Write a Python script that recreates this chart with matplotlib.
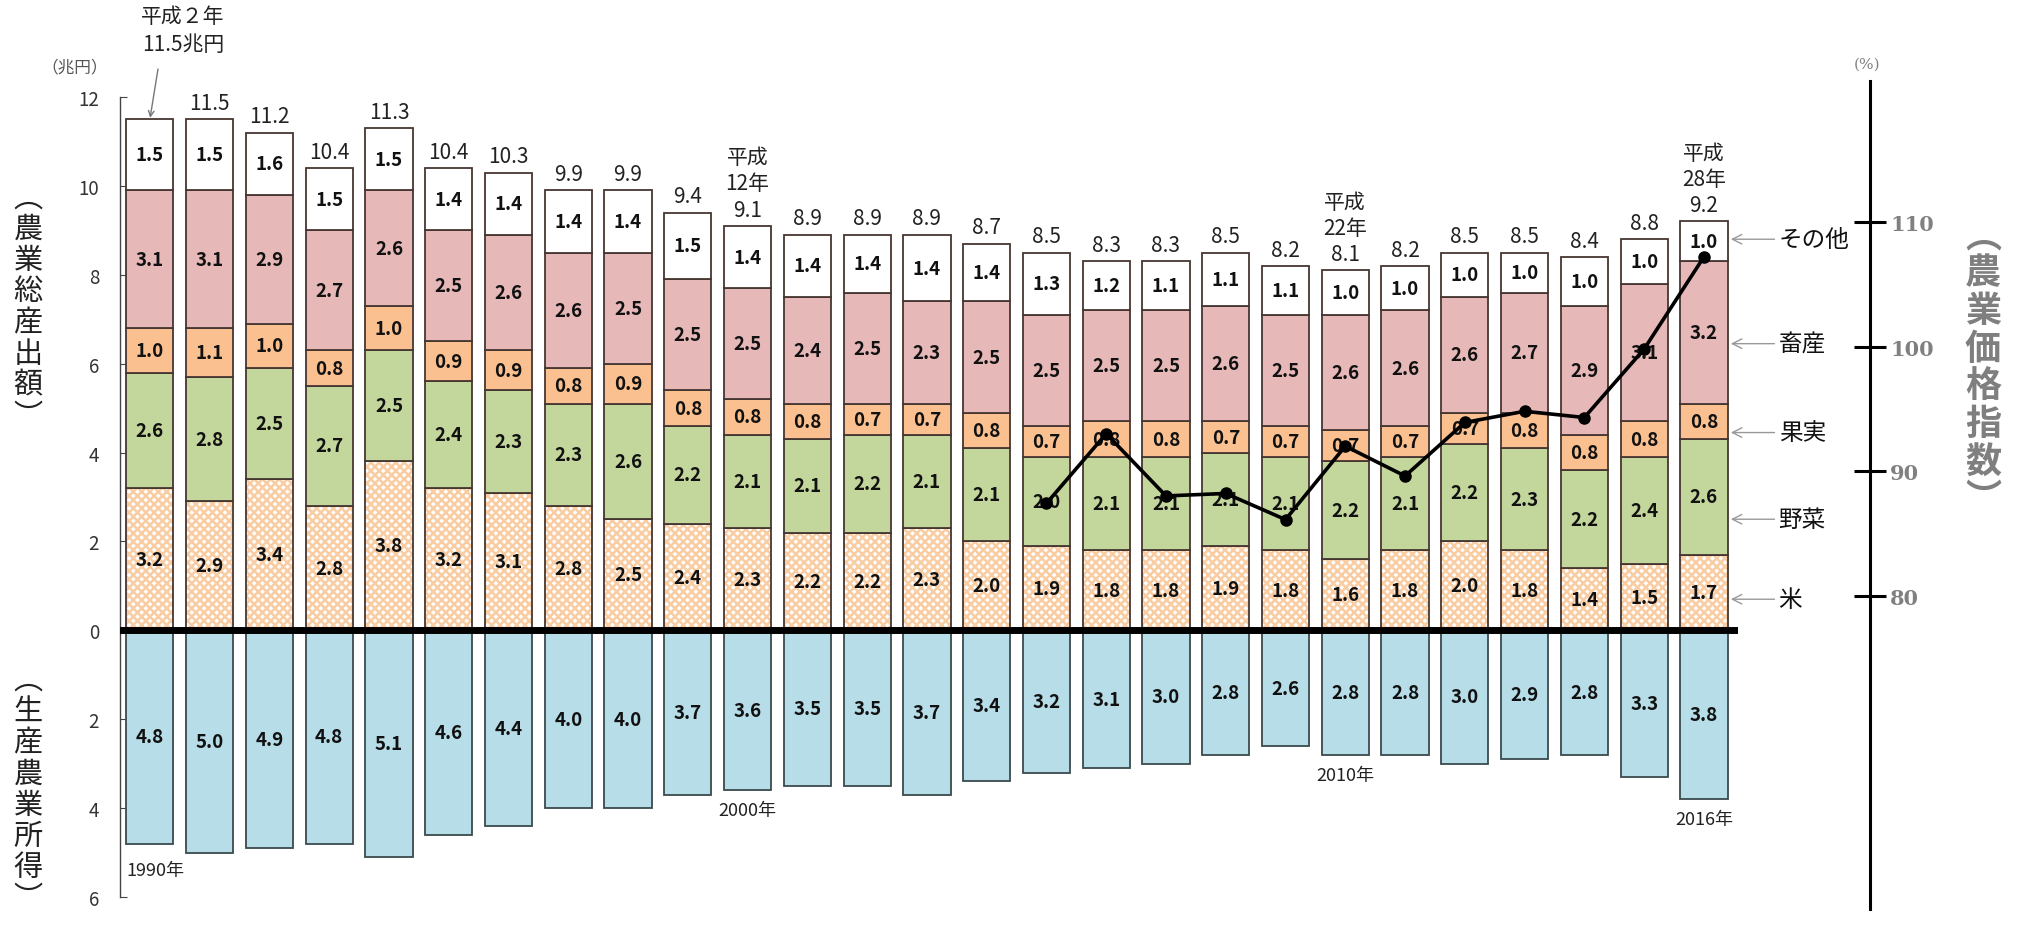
import matplotlib
matplotlib.use('Agg')
import matplotlib.pyplot as plt
import numpy as np

plt.rcParams['font.family'] = ['Noto Sans CJK JP', 'DejaVu Sans']
plt.rcParams['hatch.linewidth'] = 1.8

# ---------------- data ----------------
years = list(range(1990, 2017))
rice = [3.2, 2.9, 3.4, 2.8, 3.8, 3.2, 3.1, 2.8, 2.5, 2.4, 2.3, 2.2, 2.2, 2.3,
        2.0, 1.9, 1.8, 1.8, 1.9, 1.8, 1.6, 1.8, 2.0, 1.8, 1.4, 1.5, 1.7]
vegetables = [2.6, 2.8, 2.5, 2.7, 2.5, 2.4, 2.3, 2.3, 2.6, 2.2, 2.1, 2.1, 2.2, 2.1,
              2.1, 2.0, 2.1, 2.1, 2.1, 2.1, 2.2, 2.1, 2.2, 2.3, 2.2, 2.4, 2.6]
fruit = [1.0, 1.1, 1.0, 0.8, 1.0, 0.9, 0.9, 0.8, 0.9, 0.8, 0.8, 0.8, 0.7, 0.7,
         0.8, 0.7, 0.8, 0.8, 0.7, 0.7, 0.7, 0.7, 0.7, 0.8, 0.8, 0.8, 0.8]
livestock = [3.1, 3.1, 2.9, 2.7, 2.6, 2.5, 2.6, 2.6, 2.5, 2.5, 2.5, 2.4, 2.5, 2.3,
             2.5, 2.5, 2.5, 2.5, 2.6, 2.5, 2.6, 2.6, 2.6, 2.7, 2.9, 3.1, 3.2]
other = [1.5, 1.5, 1.6, 1.5, 1.5, 1.4, 1.4, 1.4, 1.4, 1.5, 1.4, 1.4, 1.4, 1.4,
         1.4, 1.3, 1.2, 1.1, 1.1, 1.1, 1.0, 1.0, 1.0, 1.0, 1.0, 1.0, 1.0]
total = [11.5, 11.5, 11.2, 10.4, 11.3, 10.4, 10.3, 9.9, 9.9, 9.4, 9.1, 8.9, 8.9, 8.9,
         8.7, 8.5, 8.3, 8.3, 8.5, 8.2, 8.1, 8.2, 8.5, 8.5, 8.4, 8.8, 9.2]
income = [4.8, 5.0, 4.9, 4.8, 5.1, 4.6, 4.4, 4.0, 4.0, 3.7, 3.6, 3.5, 3.5, 3.7,
          3.4, 3.2, 3.1, 3.0, 2.8, 2.6, 2.8, 2.8, 3.0, 2.9, 2.8, 3.3, 3.8]
price_years = list(range(2005, 2017))
price_index = [87.4, 93.0, 88.0, 88.2, 86.1, 92.0, 89.6, 93.9, 94.8, 94.3, 99.8, 107.2]

series_names = ['米', '野菜', '果実', '畜産', 'その他']
series_label_y = [0.7, 2.5, 4.45, 6.45, 8.8]
heisei_notes = {1990: '平成２年\n11.5兆円', 2000: '平成\n12年', 2010: '平成\n22年', 2016: '平成\n28年'}
year_marks = [1990, 2000, 2010, 2016]

# ---------------- style ----------------
EC = '#463632'
C_RICE_HATCH = '#f9cca2'
C_VEG = '#c3d69b'
C_FRUIT = '#fac090'
C_LIVE = '#e6b9b8'
C_OTHER = '#ffffff'
C_INC = '#b7dde8'

W, H = 2026, 937
fig = plt.figure(figsize=(W / 100, H / 100), dpi=100)


def px(x0, y0, x1, y1):
    return [x0 / W, 1 - y1 / H, (x1 - x0) / W, (y1 - y0) / H]


ax = fig.add_axes(px(120, 98, 1738, 898))
x = np.arange(len(years))
bw = 0.79

rice_a = np.array(rice)
veg_a = np.array(vegetables)
fr_a = np.array(fruit)
lv_a = np.array(livestock)
tot_a = np.array(total)
b1 = rice_a
b2 = b1 + veg_a
b3 = b2 + fr_a
b4 = b3 + lv_a
other_h = tot_a - b4

# rice (hatched)
ax.bar(x, rice_a, bw, color='white', edgecolor=C_RICE_HATCH, hatch='xxxx', lw=0, zorder=2)
ax.bar(x, rice_a, bw, fill=False, edgecolor=EC, lw=1.3, zorder=3)
ax.bar(x, veg_a, bw, bottom=b1, color=C_VEG, edgecolor=EC, lw=1.3, zorder=3)
ax.bar(x, fr_a, bw, bottom=b2, color=C_FRUIT, edgecolor=EC, lw=1.3, zorder=3)
ax.bar(x, lv_a, bw, bottom=b3, color=C_LIVE, edgecolor=EC, lw=1.3, zorder=3)
ax.bar(x, other_h, bw, bottom=b4, color=C_OTHER, edgecolor=EC, lw=1.3, zorder=3)
ax.bar(x, -np.array(income), bw, color=C_INC, edgecolor='#3a4a4d', lw=1.3, zorder=3)

lab_kw = dict(ha='center', va='center', fontsize=13.5, fontweight='bold', color='#111111', zorder=6)
for i in x:
    ax.text(i, b1[i] / 2, f'{rice[i]:.1f}', **lab_kw)
    ax.text(i, b1[i] + veg_a[i] / 2, f'{vegetables[i]:.1f}', **lab_kw)
    ax.text(i, b2[i] + fr_a[i] / 2, f'{fruit[i]:.1f}', **lab_kw)
    ax.text(i, b3[i] + lv_a[i] / 2, f'{livestock[i]:.1f}', **lab_kw)
    ax.text(i, b4[i] + other_h[i] / 2, f'{other[i]:.1f}', **lab_kw)
    ax.text(i, -income[i] / 2, f'{income[i]:.1f}', **lab_kw)
    yr = years[i]
    if yr == 1990:
        continue
    if yr in heisei_notes:
        txt = heisei_notes[yr] + '\n' + f'{total[i]:.1f}'
    else:
        txt = f'{total[i]:.1f}'
    ax.text(i, total[i] + 0.12, txt, ha='center', va='bottom', fontsize=15,
            color='#222222', linespacing=1.25, zorder=6)

# first bar annotation
ax.annotate('', xy=(0, total[0]), xytext=(158, H - 70), textcoords='figure pixels',
            arrowprops=dict(arrowstyle='->', color='#777777', lw=1.0, shrinkA=0, shrinkB=1),
            annotation_clip=False)
fig.text(183 / W, 1 - 31 / H, heisei_notes[1990], ha='center', va='center', fontsize=15,
         color='#222222', linespacing=1.3)

# year labels under income bars
for yr in year_marks:
    i = years.index(yr)
    if yr == 1990:
        ax.text(i - bw / 2, -income[i] - 0.4, f'{yr}年', ha='left', va='top', fontsize=13, color='#222222')
    else:
        ax.text(i, -income[i] - 0.25, f'{yr}年', ha='center', va='top', fontsize=13, color='#222222')

# series labels with arrows on the right
for name, yv in zip(series_names, series_label_y):
    ax.annotate(name, xy=(26.45, yv), xytext=(27.25, yv), textcoords='data',
                ha='left', va='center', fontsize=17, color='#111111',
                arrowprops=dict(arrowstyle='->', color='#999999', lw=1.0, shrinkA=1, shrinkB=0),
                annotation_clip=False)

ax.axhline(0, color='black', lw=5, zorder=5)
ax.set_xlim(-0.5, 26.57)
ax.set_ylim(-6, 12)
ax.set_yticks([-6, -4, -2, 0, 2, 4, 6, 8, 10, 12])
ax.set_yticklabels(['6', '4', '2', '0', '2', '4', '6', '8', '10', '12'])
ax.tick_params(axis='y', direction='in', length=5, color='#444444', labelsize=13.5,
               labelcolor='#333333', pad=15)
ax.set_xticks([])
for s in ['top', 'right', 'bottom']:
    ax.spines[s].set_visible(False)
ax.spines['left'].set_color('#444444')
ax.spines['left'].set_linewidth(1.0)
ax.patch.set_alpha(0)

# price index axis
ax2 = fig.add_axes(px(120, 82, 1870, 910))
ax2.patch.set_alpha(0)
ax2.set_xlim(-0.5, -0.5 + 1750 / 59.77)
ax2.set_ylim(54.82, 121.33)
px_idx = [years.index(y) for y in price_years]
ax2.plot(px_idx, price_index, color='black', lw=2.6, marker='o', ms=8, zorder=7)
for s in ['top', 'left', 'bottom']:
    ax2.spines[s].set_visible(False)
ax2.spines['right'].set_linewidth(2.2)
ax2.yaxis.tick_right()
ax2.set_xticks([])
ax2.set_yticks([80, 90, 100, 110])
ax2.tick_params(axis='y', direction='inout', length=23, width=2.2, color='black',
                labelsize=15, labelcolor='#808080', pad=3)
for t in ax2.get_yticklabels():
    t.set_fontfamily('DejaVu Serif')
    t.set_fontweight('bold')

fig.text(1867 / W, 1 - 65 / H, '(%)', ha='center', va='center', fontsize=11,
         color='#808080', family='DejaVu Serif')
fig.text(75 / W, 1 - 68 / H, '（兆円）', ha='center', va='center', fontsize=12, color='#555555')

fig.text(28 / W, 1 - 308 / H, '\n'.join('︵農業総産出額︶'), ha='center', va='center',
         fontsize=21, color='#222222', linespacing=1.05)
fig.text(28 / W, 1 - 790 / H, '\n'.join('︵生産農業所得︶'), ha='center', va='center',
         fontsize=21, color='#222222', linespacing=1.05)
fig.text(1983 / W, 1 - 368 / H, '\n'.join('︵農業価格指数︶'), ha='center', va='center',
         fontsize=26, fontweight='bold', color='#7f7f7f', linespacing=1.02)

fig.savefig('out.png', dpi=100)
